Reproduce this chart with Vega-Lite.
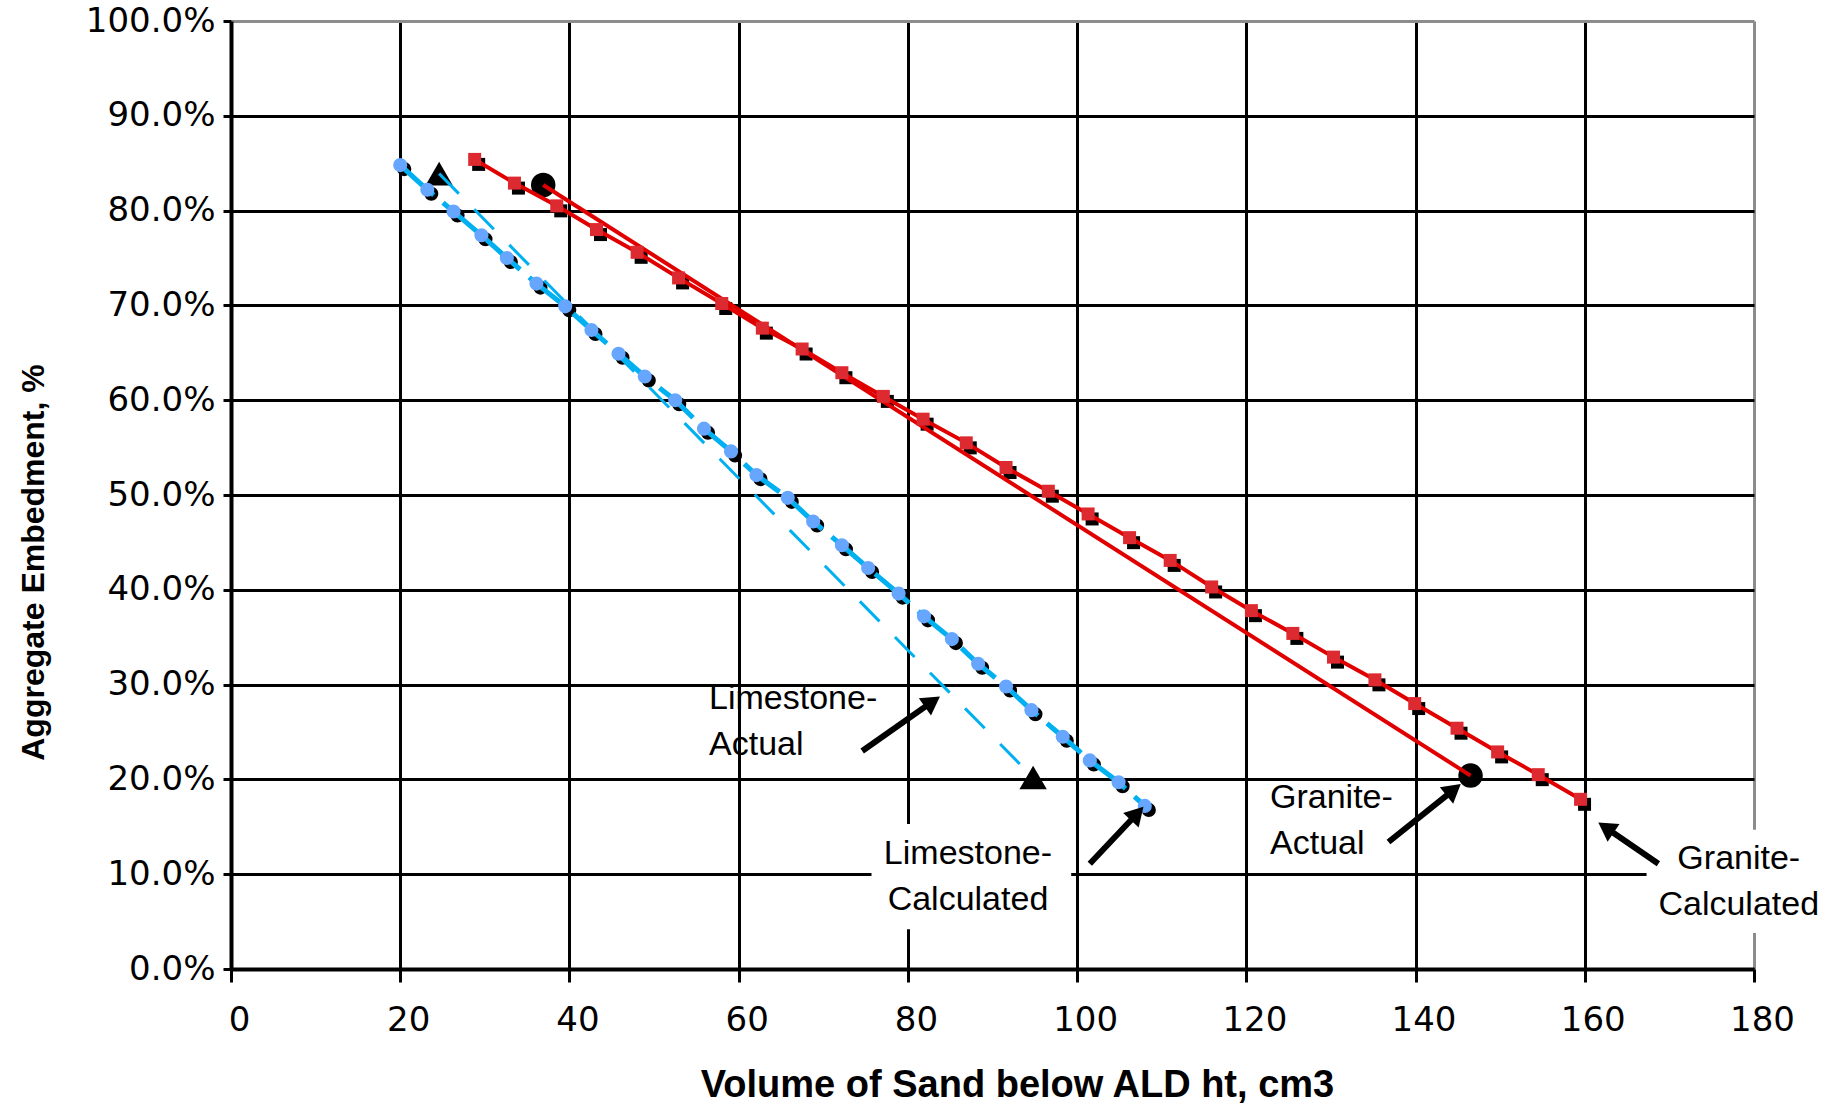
{
  "$schema": "https://vega.github.io/schema/vega-lite/v6.json",
  "width": 1523,
  "height": 948,
  "autosize": {"type": "none"},
  "padding": {"left": 231, "top": 21, "right": 85, "bottom": 139},
  "background": "white",
  "config": {"view": {"stroke": null}, "font": "Liberation Sans"},
  "datasets": {
    "granite_calc": [
      {"x": 28.8, "y": 85.4}, {"x": 33.5, "y": 82.9}, {"x": 38.5, "y": 80.5}, {"x": 43.2, "y": 78.0},
      {"x": 48.0, "y": 75.6}, {"x": 52.9, "y": 72.9}, {"x": 58.0, "y": 70.2}, {"x": 62.8, "y": 67.6},
      {"x": 67.5, "y": 65.4}, {"x": 72.2, "y": 62.9}, {"x": 77.1, "y": 60.4}, {"x": 81.8, "y": 58.0},
      {"x": 86.9, "y": 55.5}, {"x": 91.6, "y": 52.9}, {"x": 96.6, "y": 50.4}, {"x": 101.3, "y": 48.0},
      {"x": 106.2, "y": 45.5}, {"x": 111.0, "y": 43.1}, {"x": 115.9, "y": 40.3}, {"x": 120.6, "y": 37.8},
      {"x": 125.5, "y": 35.4}, {"x": 130.3, "y": 32.9}, {"x": 135.2, "y": 30.5}, {"x": 139.9, "y": 28.0},
      {"x": 144.9, "y": 25.4}, {"x": 149.7, "y": 22.9}, {"x": 154.5, "y": 20.5}, {"x": 159.5, "y": 17.9}
    ],
    "granite_act": [
      {"x": 36.9, "y": 82.7}, {"x": 146.5, "y": 20.4}
    ],
    "lime_calc": [
      {"x": 20.0, "y": 84.8}, {"x": 23.2, "y": 82.2}, {"x": 26.3, "y": 79.9}, {"x": 29.6, "y": 77.4},
      {"x": 32.6, "y": 75.0}, {"x": 36.1, "y": 72.3}, {"x": 39.5, "y": 69.9}, {"x": 42.6, "y": 67.4},
      {"x": 45.8, "y": 64.9}, {"x": 48.9, "y": 62.5}, {"x": 52.5, "y": 60.0}, {"x": 55.9, "y": 57.0},
      {"x": 59.1, "y": 54.6}, {"x": 62.1, "y": 52.1}, {"x": 65.8, "y": 49.7}, {"x": 68.8, "y": 47.2},
      {"x": 72.2, "y": 44.7}, {"x": 75.3, "y": 42.3}, {"x": 78.9, "y": 39.6}, {"x": 81.9, "y": 37.2},
      {"x": 85.2, "y": 34.8}, {"x": 88.3, "y": 32.2}, {"x": 91.6, "y": 29.8}, {"x": 94.6, "y": 27.3},
      {"x": 98.3, "y": 24.5}, {"x": 101.5, "y": 22.0}, {"x": 104.9, "y": 19.7}, {"x": 108.0, "y": 17.2}
    ],
    "lime_act": [
      {"x": 24.6, "y": 83.9}, {"x": 94.8, "y": 20.2}
    ],
    "boxes": [
      {"x": 75.7, "x2": 99.3, "y": 4.2, "y2": 15.3},
      {"x": 167.3, "x2": 189, "y": 3.8, "y2": 14.7}
    ],
    "arrows": [
      {"name": "LA", "x": 74.6, "y": 23.0, "x2": 82.9, "y2": 28.2},
      {"name": "LC", "x": 101.5, "y": 11.1, "x2": 107.1, "y2": 16.4},
      {"name": "GA", "x": 136.8, "y": 13.4, "x2": 144.5, "y2": 18.9},
      {"name": "GC", "x": 168.7, "y": 11.1, "x2": 162.5, "y2": 14.9}
    ],
    "heads": [
      {"name": "LA", "x": 82.9, "y": 28.2},
      {"name": "LC", "x": 107.1, "y": 16.4},
      {"name": "GA", "x": 144.5, "y": 18.9},
      {"name": "GC", "x": 162.5, "y": 14.9}
    ],
    "labels": [
      {"kind": "Actual", "label": "Limestone-\nActual", "x": 56.5, "y": 28.5},
      {"kind": "Calculated", "label": "Limestone-\nCalculated", "x": 87.1, "y": 12.1},
      {"kind": "Actual", "label": "Granite-\nActual", "x": 122.8, "y": 18.0},
      {"kind": "Calculated", "label": "Granite-\nCalculated", "x": 178.2, "y": 11.6}
    ]
  },
  "encoding": {
    "x": {
      "field": "x",
      "type": "quantitative",
      "title": "Volume of Sand below ALD ht, cm3",
      "scale": {"domain": [0, 180], "nice": false, "zero": false},
      "axis": {
        "values": [0, 20, 40, 60, 80, 100, 120, 140, 160, 180],
        "grid": true,
        "gridColor": {"condition": {"test": "datum.value === 180", "value": "#8c8c8c"}, "value": "#000000"},
        "gridWidth": 3,
        "domainColor": "#000000",
        "domainWidth": 4,
        "tickColor": "#000000",
        "tickWidth": 3,
        "tickSize": 13,
        "labelFont": "DejaVu Sans",
        "labelFontSize": 34,
        "labelColor": "#000000",
        "labelPadding": 21,
        "labelOffset": 8,
        "labelFlush": false,
        "labelOverlap": false,
        "titleFont": "Liberation Sans",
        "titleFontSize": 38,
        "titleFontWeight": "bold",
        "titleColor": "#000000",
        "titleX": 786,
        "titleY": 116,
        "titleBaseline": "middle"
      }
    },
    "y": {
      "field": "y",
      "type": "quantitative",
      "title": "Aggregate Embedment, %",
      "scale": {"domain": [0, 100], "nice": false, "zero": false},
      "axis": {
        "values": [0, 10, 20, 30, 40, 50, 60, 70, 80, 90, 100],
        "labelExpr": "format(datum.value, '.1f') + '%'",
        "grid": true,
        "gridColor": {"condition": {"test": "datum.value === 100", "value": "#8c8c8c"}, "value": "#000000"},
        "gridWidth": 3,
        "domainColor": "#000000",
        "domainWidth": 4,
        "tickColor": "#000000",
        "tickWidth": 3,
        "tickSize": 8,
        "labelFont": "DejaVu Sans",
        "labelFontSize": 34,
        "labelColor": "#000000",
        "labelPadding": 8,
        "labelFlush": false,
        "labelOverlap": false,
        "titleFont": "Liberation Sans",
        "titleFontSize": 32,
        "titleFontWeight": "bold",
        "titleColor": "#000000",
        "titleAngle": -90,
        "titleX": -198,
        "titleY": 541,
        "titleBaseline": "middle",
        "titleAlign": "center"
      }
    }
  },
  "layer": [
    {
      "data": {"name": "boxes"},
      "mark": {"type": "rect", "fill": "white", "stroke": null},
      "encoding": {"x2": {"field": "x2"}, "y2": {"field": "y2"}}
    },
    {
      "data": {"name": "granite_calc"},
      "mark": {"type": "point", "shape": "square", "size": 169, "filled": true, "color": "#000000", "opacity": 1, "xOffset": 4, "yOffset": 5}
    },
    {
      "data": {"name": "lime_calc"},
      "mark": {"type": "point", "shape": "circle", "size": 200, "filled": true, "color": "#000000", "opacity": 1, "xOffset": 4, "yOffset": 4}
    },
    {
      "data": {"name": "granite_act"},
      "mark": {"type": "point", "shape": "circle", "size": 600, "filled": true, "color": "#000000", "opacity": 1}
    },
    {
      "data": {"name": "lime_act"},
      "mark": {"type": "point", "shape": "triangle-up", "size": 750, "filled": true, "color": "#000000", "opacity": 1}
    },
    {
      "data": {"name": "granite_calc"},
      "mark": {"type": "line", "color": "#e00000", "strokeWidth": 4}
    },
    {
      "data": {"name": "granite_act"},
      "mark": {"type": "line", "color": "#e00000", "strokeWidth": 4}
    },
    {
      "data": {"name": "lime_calc"},
      "mark": {"type": "line", "color": "#00b0f0", "strokeWidth": 5, "strokeDash": [45, 12]}
    },
    {
      "data": {"name": "lime_act"},
      "mark": {"type": "line", "color": "#00b0f0", "strokeWidth": 3, "strokeDash": [28, 22]}
    },
    {
      "data": {"name": "granite_calc"},
      "mark": {"type": "point", "shape": "square", "size": 169, "filled": true, "color": "#dd2a30", "opacity": 1}
    },
    {
      "data": {"name": "lime_calc"},
      "mark": {"type": "point", "shape": "circle", "size": 200, "filled": true, "color": "#66a6ff", "opacity": 1}
    },
    {
      "data": {"name": "arrows"},
      "mark": {"type": "rule", "color": "#000000", "strokeWidth": 6},
      "encoding": {"x2": {"field": "x2"}, "y2": {"field": "y2"}}
    },
    {
      "data": {"name": "heads"},
      "transform": [{"filter": "datum.name === 'LA'"}],
      "mark": {"type": "point", "shape": "triangle-up", "size": 450, "filled": true, "color": "#000000", "opacity": 1, "angle": 55}
    },
    {
      "data": {"name": "heads"},
      "transform": [{"filter": "datum.name === 'LC'"}],
      "mark": {"type": "point", "shape": "triangle-up", "size": 450, "filled": true, "color": "#000000", "opacity": 1, "angle": 43}
    },
    {
      "data": {"name": "heads"},
      "transform": [{"filter": "datum.name === 'GA'"}],
      "mark": {"type": "point", "shape": "triangle-up", "size": 450, "filled": true, "color": "#000000", "opacity": 1, "angle": 51}
    },
    {
      "data": {"name": "heads"},
      "transform": [{"filter": "datum.name === 'GC'"}],
      "mark": {"type": "point", "shape": "triangle-up", "size": 450, "filled": true, "color": "#000000", "opacity": 1, "angle": 304}
    },
    {
      "data": {"name": "labels"},
      "transform": [{"filter": "datum.kind === 'Actual'"}],
      "mark": {"type": "text", "font": "Liberation Sans", "fontSize": 34, "lineBreak": "\n", "lineHeight": 46, "align": "left", "baseline": "middle", "color": "#000000"},
      "encoding": {"text": {"field": "label"}}
    },
    {
      "data": {"name": "labels"},
      "transform": [{"filter": "datum.kind === 'Calculated'"}],
      "mark": {"type": "text", "font": "Liberation Sans", "fontSize": 34, "lineBreak": "\n", "lineHeight": 46, "align": "center", "baseline": "middle", "color": "#000000"},
      "encoding": {"text": {"field": "label"}}
    }
  ]
}
